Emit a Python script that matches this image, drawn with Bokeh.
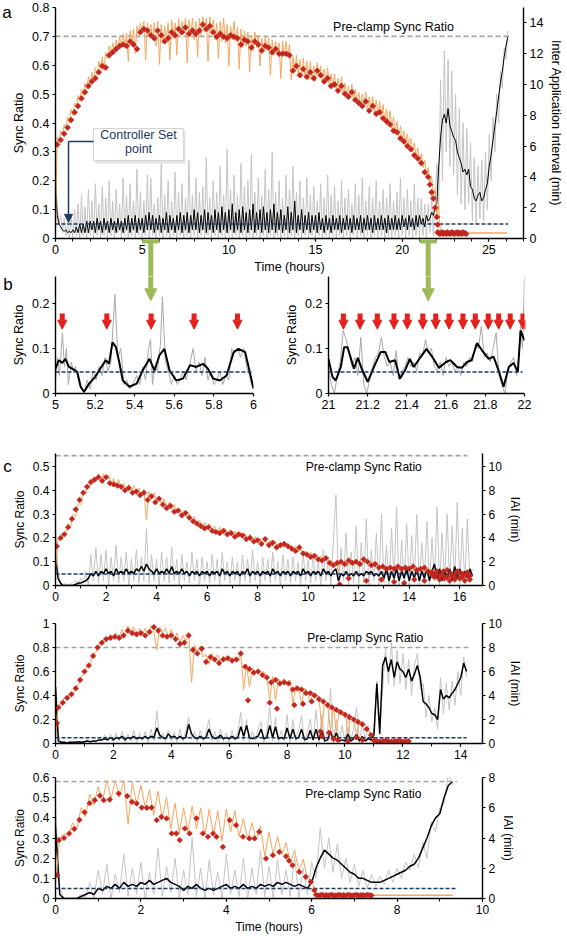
from bokeh.plotting import figure
from bokeh.models import Range1d, LinearAxis, FixedTicker, Arrow, NormalHead, ColumnDataSource
from bokeh.layouts import column, row
from bokeh.embed import file_html
from bokeh.resources import INLINE
from bokeh.core.properties import value

FONT = "Liberation Sans"
ORANGE = "#F5A65B"
RED = "#C4261D"
GREY = "#C4C4C4"
BGREY = "#A8A8A8"
NAVY = "#1F3864"
PRE = "#A3A3A3"
GREEN = "#9BBB59"
ARED = "#E3201B"

# ---------------- panel a ----------------
A_SETPOINT = 0.05
A_PRECLAMP = 0.7
a_red = [6.1,6.4,6.8,7.2,7.7,8.2,8.6,9.1,9.5,9.9, 10.2,10.4,10.8,11.2,11.1,11.9,12.1,12.3,12.5,12.6,
         12.5,12.8,12.6,12.3,13.4,13.6,13.5,13.2,13.0,13.5, 13.2,12.8,13.0,13.4,13.2,13.6,13.4,13.7,13.3,13.5,
         13.3,13.5,13.9,13.6,13.8,13.4,13.1,13.3,13.1,13.0, 13.2,13.1,13.0,12.6,12.9,12.8,12.4,12.8,12.6,12.2,
         12.5,12.4,12.1,12.3,12.0,12.0,12.0,11.9,10.9,11.2, 10.6,11.0,10.5,10.8,10.4,10.9,10.6,10.2,10.4,9.9,
         10.0,9.6,9.9,9.4,9.2,9.5,9.0,8.8,8.6,8.9, 8.3,8.6,8.1,8.2,7.8,7.6,7.4,7.0,6.9,6.5,
         6.3,6.0,5.8,5.4,5.2,4.9,4.3,4.0]
a_red_tail = [(21.6,3.5),(21.7,3.0),(21.8,2.6),(21.9,2.0),(22.0,1.4),(22.05,0.9)]
a_red_low = [0.4,0.35,0.3,0.35,0.4,0.3,0.35,0.35,0.3,0.4,0.35,0.3,0.35,0.4,0.35,0.3,0.35,0.35,0.4,0.3,
             0.35,0.35,0.3,0.4,0.35,0.35,0.3]
a_orange = [0.4,6.6,6.3,7.0,6.7,7.4,7.1,7.9,7.5,8.4, 8.0,8.8,8.5,9.3,8.9,9.7,9.3,10.1,9.7,10.5,
            10.0,10.8,10.3,11.1,10.6,11.5,11.0,11.8,10.9,12.1, 11.7,12.5,12.0,12.7,12.1,12.9,12.3,13.1,12.4,13.3,
            12.5,13.3,11.5,13.5,12.6,13.6,12.0,13.8,13.2,14.0, 13.4,14.1,11.6,14.0,13.2,13.9,12.9,14.0,12.5,14.1,
            11.3,13.9,12.7,13.8,12.9,14.0,11.6,14.2,13.0,14.0, 11.9,14.3,13.2,14.1,13.3,14.3,11.4,14.2,13.1,14.3,
            12.9,14.1,11.8,14.3,13.2,14.4,13.4,14.3,11.5,14.4, 13.3,14.2,12.9,14.0,11.7,14.1,12.8,14.3,12.7,13.9,
            11.2,13.8,12.9,14.1,12.8,13.7,11.0,13.6,12.4,13.5, 12.5,13.4,10.8,13.2,12.2,13.4,12.4,13.2,11.2,13.0,
            12.1,13.1,12.2,13.0,10.6,12.9,11.9,12.8,11.9,12.7, 10.4,12.8,11.9,12.8,11.8,12.6,10.3,11.8,10.8,11.9,
            10.6,11.6,10.5,11.7,10.4,11.5,10.3,11.5,10.3,11.2, 10.2,11.4,10.5,11.2,10.1,11.0,10.2,11.1,9.8,10.7,
            9.9,10.7,9.6,10.4,9.6,10.5,9.3,10.1,9.1,9.9, 9.2,10.0,8.9,9.7,8.8,9.5,8.5,9.4,8.6,9.5,
            8.3,9.2,8.4,9.2,8.1,9.0,8.0,8.9,7.8,8.7, 7.6,8.4,7.4,8.3,7.1,7.9,6.9,7.6,6.6,7.3,
            6.4,7.0,6.1,6.8,5.9,6.5,5.6,6.2,5.3,5.9, 5.0,5.5,4.6,5.1,4.1,4.6,3.6,4.0,2.8,3.2,
            1.5,2.2,0.5,0.35]
a_orange_tail = [(22.3,0.35),(26.05,0.35)]
a_grey = [0.2,0.12,0.05,0.08,0.02,0.07,0.01,0.06,0.0,0.08, 0.0,0.1,0.01,0.12,0.0,0.15,0.01,0.11,0.0,0.17,
          0.01,0.13,0.0,0.19,0.01,0.12,0.0,0.18,0.01,0.14, 0.0,0.2,0.01,0.13,0.0,0.17,0.02,0.12,0.0,0.21,
          0.01,0.15,0.0,0.19,0.01,0.13,0.0,0.24,0.01,0.16, 0.0,0.13,0.01,0.22,0.0,0.21,0.01,0.12,0.0,0.14,
          0.01,0.26,0.0,0.15,0.01,0.2,0.0,0.13,0.01,0.23, 0.0,0.16,0.01,0.19,0.0,0.14,0.01,0.27,0.0,0.15,
          0.01,0.21,0.0,0.16,0.01,0.18,0.0,0.28,0.01,0.14, 0.0,0.2,0.01,0.16,0.0,0.25,0.01,0.15,0.0,0.31,
          0.01,0.17,0.0,0.22,0.01,0.15,0.0,0.26,0.01,0.18, 0.0,0.2,0.01,0.29,0.0,0.16,0.01,0.21,0.0,0.15,
          0.01,0.24,0.0,0.17,0.01,0.3,0.0,0.16,0.01,0.2, 0.0,0.14,0.01,0.22,0.0,0.17,0.01,0.25,0.0,0.16,
          0.01,0.2,0.0,0.14,0.01,0.21,0.0,0.15,0.01,0.18, 0.0,0.13,0.01,0.19,0.0,0.14,0.01,0.22,0.0,0.15,
          0.01,0.18,0.0,0.13,0.01,0.2,0.0,0.14,0.01,0.17, 0.0,0.12,0.01,0.19,0.0,0.15,0.01,0.21,0.0,0.13,
          0.01,0.18,0.0,0.14,0.01,0.2,0.0,0.13,0.01,0.17, 0.0,0.14,0.01,0.19,0.0,0.13,0.01,0.16,0.0,0.21,
          0.01,0.14,0.0,0.17,0.01,0.13,0.0,0.19,0.01,0.14, 0.0,0.14,0.01,0.12,0.0,0.12,0.02,0.15,0.01,0.12]
a_black = [0.18,0.08,0.05,0.04,0.03,0.025,0.03,0.02,0.025,0.02, 0.03,0.02,0.04,0.02,0.05,0.02,0.05,0.02,0.06,0.02,
           0.06,0.03,0.06,0.02,0.07,0.03,0.06,0.02,0.07,0.03, 0.06,0.02,0.07,0.03,0.06,0.02,0.07,0.03,0.06,0.02,
           0.07,0.03,0.08,0.02,0.07,0.03,0.08,0.02,0.07,0.03, 0.07,0.02,0.08,0.03,0.09,0.03,0.08,0.02,0.07,0.03,
           0.08,0.02,0.07,0.03,0.09,0.02,0.08,0.03,0.07,0.02, 0.08,0.03,0.09,0.02,0.08,0.03,0.09,0.02,0.08,0.03,
           0.1,0.03,0.09,0.02,0.08,0.03,0.1,0.02,0.09,0.03, 0.08,0.02,0.1,0.03,0.09,0.02,0.11,0.03,0.09,0.02,
           0.1,0.03,0.12,0.02,0.09,0.03,0.1,0.02,0.11,0.03, 0.09,0.02,0.1,0.03,0.12,0.02,0.09,0.03,0.1,0.02,
           0.11,0.03,0.09,0.02,0.1,0.03,0.12,0.02,0.09,0.03, 0.1,0.02,0.08,0.03,0.11,0.02,0.09,0.03,0.13,0.02,
           0.08,0.03,0.1,0.02,0.08,0.03,0.09,0.02,0.08,0.03, 0.08,0.02,0.09,0.03,0.07,0.02,0.08,0.03,0.07,0.02,
           0.08,0.03,0.07,0.03,0.08,0.02,0.07,0.03,0.08,0.03, 0.07,0.02,0.08,0.03,0.07,0.03,0.08,0.02,0.07,0.03,
           0.08,0.03,0.07,0.02,0.08,0.03,0.07,0.03,0.08,0.03, 0.07,0.02,0.08,0.03,0.07,0.03,0.08,0.03,0.07,0.03,
           0.08,0.04,0.07,0.03,0.08,0.04,0.07,0.03,0.08,0.04, 0.08,0.05,0.07,0.04,0.08,0.06,0.07,0.09,0.08,0.11]
a_rec_black = [0.12,0.25,0.35,0.41,0.43,0.40,0.45,0.39,0.37,0.35, 0.34,0.30,0.28,0.26,0.23,0.24,0.22,0.24,0.18,0.17,
               0.14,0.13,0.15,0.16,0.13,0.14,0.17,0.19,0.25,0.29, 0.34,0.39,0.44,0.49,0.54,0.58,0.63,0.67,0.70]
a_rec_grey = [0.26,0.1,0.55,0.2,0.65,0.3,0.62,0.25,0.58,0.22, 0.5,0.15,0.45,0.12,0.4,0.1,0.38,0.12,0.33,0.06,
              0.28,0.05,0.25,0.07,0.27,0.06,0.3,0.1,0.36,0.2, 0.42,0.3,0.5,0.4,0.58,0.52,0.66,0.62,0.72]

# ---------------- panel b ----------------
B_SETPOINT = 0.048
b1_window = (5.0, 6.0)
b2_window = (21.0, 22.0)
b1_black = [(5.0,0.055),(5.017,0.074),(5.034,0.068),(5.05,0.077),(5.068,0.059),(5.085,0.055),(5.11,0.048),
            (5.127,0.015),(5.144,0.004),(5.17,0.022),(5.2,0.037),(5.22,0.051),(5.254,0.074),(5.27,0.066),
            (5.288,0.114),(5.305,0.103),(5.32,0.074),(5.34,0.029),(5.373,0.015),(5.41,0.022),(5.44,0.051),
            (5.475,0.077),(5.5,0.051),(5.525,0.085),(5.55,0.099),(5.576,0.051),(5.61,0.029),(5.644,0.033),
            (5.68,0.063),(5.71,0.059),(5.746,0.066),(5.77,0.055),(5.797,0.033),(5.83,0.029),(5.864,0.04),
            (5.9,0.092),(5.924,0.099),(5.958,0.092),(5.983,0.044),(6.0,0.011)]
b1_grey = [(5.0,0.03),(5.01,0.08),(5.02,0.04),(5.035,0.135),(5.045,0.06),(5.055,0.1),(5.065,0.02),(5.08,0.07),
           (5.09,0.05),(5.1,0.06),(5.115,0.03),(5.13,0.01),(5.145,0.0),(5.16,0.03),(5.175,0.01),(5.19,0.05),
           (5.205,0.03),(5.22,0.06),(5.235,0.04),(5.25,0.08),(5.265,0.05),(5.28,0.07),(5.3,0.22),(5.315,0.08),
           (5.33,0.1),(5.345,0.02),(5.36,0.03),(5.375,0.01),(5.39,0.02),(5.41,0.04),(5.425,0.02),(5.44,0.06),
           (5.455,0.03),(5.47,0.1),(5.48,0.12),(5.49,0.02),(5.5,0.06),(5.515,0.05),(5.53,0.11),(5.54,0.215),
           (5.555,0.07),(5.57,0.05),(5.585,0.02),(5.6,0.04),(5.615,0.02),(5.63,0.03),(5.645,0.05),(5.66,0.03),
           (5.68,0.07),(5.695,0.1),(5.71,0.05),(5.725,0.07),(5.74,0.04),(5.755,0.08),(5.77,0.03),(5.785,0.05),
           (5.8,0.02),(5.815,0.03),(5.83,0.05),(5.845,0.02),(5.86,0.04),(5.875,0.03),(5.89,0.1),(5.905,0.09),
           (5.92,0.1),(5.935,0.08),(5.95,0.1),(5.965,0.06),(5.98,0.04),(5.99,0.02),(6.0,0.01)]
b2_black = [(21.0,0.077),(21.02,0.037),(21.037,0.029),(21.063,0.059),(21.08,0.103),(21.097,0.103),(21.13,0.055),
            (21.15,0.079),(21.173,0.051),(21.2,0.026),(21.232,0.059),(21.266,0.092),(21.29,0.092),(21.31,0.07),
            (21.34,0.074),(21.364,0.033),(21.39,0.051),(21.415,0.077),(21.435,0.059),(21.47,0.081),(21.5,0.099),
            (21.53,0.081),(21.563,0.057),(21.6,0.07),(21.622,0.074),(21.656,0.059),(21.68,0.057),(21.707,0.07),
            (21.73,0.074),(21.758,0.112),(21.783,0.096),(21.817,0.077),(21.842,0.082),(21.868,0.051),(21.893,0.015),
            (21.92,0.059),(21.944,0.068),(21.966,0.048),(21.98,0.14),(22.0,0.118)]
b2_grey = [(21.0,0.05),(21.015,0.02),(21.03,0.0),(21.045,0.04),(21.06,0.07),(21.075,0.14),(21.09,0.12),(21.105,0.09),
           (21.12,0.06),(21.135,0.08),(21.15,0.04),(21.165,0.125),(21.18,0.02),(21.195,0.0),(21.21,0.03),(21.225,0.06),
           (21.24,0.08),(21.255,0.09),(21.27,0.125),(21.285,0.08),(21.3,0.06),(21.315,0.07),(21.33,0.04),(21.345,0.095),
           (21.36,0.03),(21.375,0.05),(21.39,0.06),(21.405,0.08),(21.42,0.06),(21.435,0.07),(21.45,0.05),(21.465,0.09),
           (21.48,0.085),(21.495,0.12),(21.51,0.09),(21.525,0.1),(21.54,0.06),(21.555,0.05),(21.57,0.07),(21.585,0.04),
           (21.6,0.08),(21.615,0.06),(21.63,0.07),(21.645,0.05),(21.66,0.06),(21.675,0.04),(21.69,0.07),(21.705,0.06),
           (21.72,0.08),(21.735,0.07),(21.75,0.11),(21.765,0.1),(21.78,0.15),(21.795,0.08),(21.81,0.09),(21.825,0.07),
           (21.84,0.1),(21.855,0.135),(21.87,0.04),(21.885,0.02),(21.9,0.0),(21.915,0.05),(21.93,0.07),(21.945,0.08),
           (21.96,0.04),(21.97,0.08),(21.98,0.15),(21.99,0.1),(22.0,0.26)]
b1_applications = [5.034, 5.259, 5.483, 5.70, 5.919]
b2_applications = [21.076, 21.161, 21.249, 21.334, 21.402, 21.481, 21.547, 21.615, 21.686, 21.749,
                   21.815, 21.868, 21.927, 21.992]

# ---------------- panel c1 ----------------
C1_PRECLAMP = 0.546
c1_red = [3.3,4.0,4.3,4.9,5.6,6.4,7.2,7.8,8.3,8.7, 8.9,9.1,8.8,9.1,8.6,8.5,8.4,8.3,8.0,8.2,
          7.8,7.9,7.6,7.8,7.2,7.5,7.0,7.3,6.8,6.5, 6.7,6.2,6.3,5.9,6.1,5.7,5.4,5.2,5.0,4.8,
          4.9,4.6,4.5,4.4,4.6,4.3,4.4,4.1,4.3,4.2, 3.9,4.0,3.7,3.8,3.5,3.9,3.4,3.6,3.2,3.4,
          3.5,3.3,3.1,2.9,3.2,2.7,2.6,2.4,2.5,2.2, 2.1,2.3,1.9,1.7,1.9,2.0,1.8,2.1,1.9,2.0,
          1.8,2.2,2.0,1.7,1.8,1.5,1.6,1.4,1.5,1.4, 1.6,1.4,1.5,1.4,1.6,1.3,1.4,1.5,1.2,1.1,
          1.0,0.8,1.2,0.7,1.0,0.8,1.1,0.7,0.9,0.8]
c1_red_extra = [(11.25,0.1),(11.6,0.6),(12.3,0.4),(12.9,0.5),(13.4,0.3),(13.8,0.2),(14.2,0.5),(14.6,0.4),
                (15.0,0.7),(15.2,0.5),(15.4,0.6),(15.6,0.4),(15.8,0.5),(16.0,0.6),(16.2,0.4),(16.4,0.5),
                (15.1,1.2),(15.5,1.3),(15.9,1.2),(16.3,1.1),(14.9,0.9),(15.3,0.9),(15.7,0.8),(16.1,1.0)]
c1_orange = [1.2,3.9,3.8,4.4,4.3,5.2,5.0,6.0,5.8,6.9, 6.8,8.0,7.8,8.6,8.4,9.1,8.8,9.4,8.7,9.4,
             8.9,9.3,8.6,9.0,8.4,8.9,8.2,8.6,8.0,8.5, 7.9,8.4,7.8,8.2,7.6,8.1,5.5,7.9,7.3,7.8,
             7.1,7.5,6.8,7.3,6.5,7.0,6.4,6.8,6.1,6.5, 5.9,6.3,5.7,6.0,5.3,5.8,5.1,5.5,4.9,5.3,
             4.8,5.2,4.6,5.0,4.4,4.9,4.4,4.8,4.2,4.7, 4.2,4.6,4.0,4.5,4.0,4.4,3.8,4.3,3.7,4.1,
             3.6,4.0,3.5,3.9,3.3,3.8,3.3,3.7,3.2,3.6, 3.2,3.6,3.1,3.4,2.9,3.3,2.8,3.1,2.6,2.9,
             2.5,2.8,2.3,2.6,2.1,2.5,2.0,2.3,1.8,2.1, 1.6,2.0,1.2,2.1,1.7,2.0,1.7,2.1,1.8,2.1,
             1.8,2.3,1.9,2.1,1.7,1.9,1.6,1.8,1.4,1.7, 1.3,1.6,1.3,1.6,1.3,1.6,1.3,1.6,1.3,1.6,
             1.3,1.6,1.2,1.5,1.2,1.5,1.1,1.4,1.0,1.3, 0.9]
c1_grey = [0.25,0.06,0.01,0.0,0.01,0.0,0.01,0.0,0.02,0.0, 0.03,0.01,0.06,0.0,0.13,0.02,0.16,0.01,0.13,0.02,
           0.15,0.0,0.12,0.02,0.17,0.01,0.12,0.02,0.14,0.0, 0.11,0.02,0.15,0.01,0.12,0.02,0.24,0.01,0.13,0.02,
           0.11,0.0,0.14,0.02,0.12,0.01,0.16,0.02,0.11,0.0, 0.13,0.02,0.1,0.01,0.14,0.02,0.11,0.0,0.12,0.02,
           0.1,0.01,0.13,0.02,0.11,0.0,0.14,0.02,0.1,0.01, 0.12,0.02,0.1,0.0,0.13,0.02,0.11,0.01,0.15,0.02,
           0.1,0.0,0.12,0.02,0.11,0.01,0.14,0.02,0.1,0.0, 0.13,0.02,0.11,0.01,0.12,0.02,0.1,0.0,0.14,0.02,
           0.11,0.01,0.13,0.02,0.1,0.0,0.15,0.02,0.12,0.0, 0.2,0.38,0.0,0.16,0.02,0.22,0.0,0.14,0.01,0.25,
           0.0,0.18,0.01,0.28,0.0,0.15,0.02,0.22,0.0,0.3, 0.01,0.17,0.0,0.24,0.02,0.33,0.0,0.19,0.01,0.26,
           0.0,0.21,0.02,0.3,0.0,0.18,0.01,0.27,0.0,0.2, 0.02,0.33,0.0,0.22,0.01,0.3,0.0,0.25,0.02,0.35,
           0.0,0.24,0.01,0.28,0.02,0.07]
c1_black = [0.12,0.03,0.01,0.0,0.0,0.0,0.0,0.0,0.005,0.01, 0.01,0.015,0.02,0.03,0.05,0.04,0.06,0.04,0.06,0.05,
            0.07,0.05,0.06,0.04,0.07,0.05,0.06,0.05,0.07,0.05, 0.06,0.05,0.07,0.06,0.08,0.06,0.09,0.07,0.06,0.05,
            0.07,0.05,0.06,0.05,0.07,0.05,0.08,0.05,0.06,0.05, 0.07,0.05,0.06,0.04,0.06,0.05,0.06,0.04,0.06,0.05,
            0.06,0.04,0.06,0.05,0.06,0.04,0.07,0.05,0.06,0.04, 0.06,0.05,0.06,0.04,0.06,0.05,0.07,0.04,0.06,0.05,
            0.06,0.04,0.06,0.05,0.06,0.04,0.07,0.05,0.06,0.04, 0.06,0.05,0.06,0.04,0.06,0.05,0.06,0.04,0.07,0.05,
            0.06,0.04,0.06,0.05,0.06,0.04,0.07,0.05,0.06,0.04, 0.06,0.07,0.02,0.05,0.04,0.06,0.04,0.05,0.04,0.06,
            0.04,0.05,0.04,0.06,0.05,0.06,0.04,0.05,0.04,0.06, 0.03,0.07,0.02,0.06,0.03,0.07,0.02,0.06,0.03,0.07,
            0.02,0.06,0.03,0.07,0.02,0.06,0.03,0.07,0.02,0.06, 0.09,0.03,0.07,0.02,0.06,0.03,0.07,0.02,0.08,0.03,
            0.07,0.03,0.06,0.03,0.07,0.04]

# ---------------- panel c2 ----------------
C2_PRECLAMP = 0.8
c2_red = [3.0,3.4,3.8,4.1,4.6,5.3,6.0,6.5,7.3,8.0, 8.4,8.7,8.8,8.9,8.8,9.0,9.4,9.2,9.1,9.2,
          9.0,9.3,9.7,9.4,9.0,8.9,9.0,8.7,8.3,8.4, 9.0,7.8,7.5,7.9,6.8,7.2,7.0,6.7,7.0,7.1,
          6.9,7.0,7.5,6.4,6.2,5.9,6.0,5.7,5.5,5.1, 5.3,5.0,5.1,5.0,4.5,4.6,4.5,4.2,4.2,4.0,
          3.7,3.5,3.2,3.0,2.8,2.6,2.4,2.2,2.0,1.8, 1.6,1.2,0.7]
c2_red_extra = [(0.05,1.7),(6.65,3.6),(7.4,3.4),(7.65,2.9),(8.25,3.2),(8.55,3.3),(8.85,3.5),(9.15,1.0),
                (9.2,0.6),(9.45,0.9),(9.6,0.4),(9.75,0.3),(10.1,0.2),(10.4,0.5),(10.6,0.3)]
c2_red_low = [0.25,0.2,0.15,0.2,0.25,0.2,0.15,0.2,0.2,0.25,0.15,0.2,0.2]
c2_orange = [0.3,3.2,3.3,3.8,3.7,4.2,4.1,4.8,4.9,5.6, 5.8,6.5,6.6,7.4,7.6,8.2,8.3,8.8,8.6,9.1,
             8.8,9.2,8.9,9.5,9.0,9.8,9.2,9.7,9.0,9.6, 9.1,9.6,9.1,9.8,9.3,7.8,9.7,9.2,9.6,8.9,
             9.5,8.7,9.2,8.4,9.0,8.5,9.3,5.1,8.2,7.6, 8.1,7.2,7.4,6.6,7.5,7.0,7.4,6.8,7.3,7.0,
             7.3,6.9,7.2,6.8,7.6,4.5,6.6,4.7,6.3,5.9, 6.2,5.8,6.0,5.6,3.7,5.6,3.6,5.4,5.1,5.4,
             5.0,5.3,3.3,4.8,4.5,3.3,4.6,4.3,3.4,4.2, 4.0,3.9,1.2,3.6,3.3,1.0,3.1,0.9,2.8,2.6,
             2.6,0.8,2.3,2.1,0.7,1.9,1.7,1.5,1.2,0.6, 0.2,0.15]
c2_orange_tail = [(11.1,0.15),(12.2,0.15)]
c2_grey = [0.48,0.05,0.01,0.02,0.0,0.02,0.0,0.02,0.01,0.02, 0.01,0.03,0.01,0.02,0.01,0.04,0.02,0.07,0.02,0.08,
           0.01,0.09,0.02,0.1,0.01,0.08,0.02,0.11,0.01,0.09, 0.02,0.1,0.01,0.12,0.02,0.27,0.03,0.09,0.01,0.11,
           0.02,0.09,0.01,0.12,0.02,0.1,0.22,0.03,0.1,0.01, 0.11,0.02,0.09,0.2,0.02,0.1,0.01,0.12,0.02,0.09,
           0.01,0.11,0.02,0.1,0.26,0.02,0.2,0.01,0.1,0.02, 0.12,0.18,0.01,0.1,0.3,0.02,0.22,0.01,0.11,0.02,
           0.24,0.01,0.2,0.02,0.12,0.23,0.01,0.1,0.2,0.02, 0.28,0.01,0.24,0.02,0.1,0.46,0.01,0.2,0.02,0.15,
           0.01,0.25,0.02,0.12,0.3,0.01,0.18,0.02,0.15,0.01, 0.12,0.52,0.12,0.45,0.8,0.5,0.85,0.48,0.78,0.5,
           0.75,0.45,0.7,0.4,0.65,0.75,0.45,0.5,0.22,0.4, 0.18,0.3,0.12,0.55,0.25,0.5,0.28,0.52,0.32,0.6,
           0.4,0.72,0.55]
c2_black = [0.47,0.02,0.01,0.01,0.005,0.01,0.01,0.01,0.015,0.01, 0.015,0.02,0.015,0.02,0.02,0.03,0.03,0.04,0.03,0.05,
            0.03,0.05,0.04,0.06,0.03,0.05,0.04,0.06,0.04,0.05, 0.04,0.06,0.04,0.06,0.05,0.13,0.07,0.05,0.04,0.08,
            0.05,0.06,0.04,0.06,0.04,0.05,0.16,0.08,0.05,0.04, 0.06,0.04,0.05,0.12,0.06,0.04,0.05,0.07,0.04,0.05,
            0.04,0.06,0.04,0.05,0.14,0.06,0.15,0.05,0.04,0.05, 0.06,0.12,0.04,0.05,0.15,0.05,0.14,0.04,0.05,0.04,
            0.13,0.04,0.12,0.04,0.05,0.12,0.03,0.04,0.11,0.03, 0.12,0.03,0.11,0.02,0.03,0.1,0.02,0.09,0.02,0.03,
            0.02,0.08,0.02,0.04,0.08,0.02,0.06,0.02,0.04,0.03, 0.07,0.5,0.08,0.65,0.72,0.6,0.7,0.55,0.68,0.62,
            0.6,0.55,0.62,0.52,0.58,0.65,0.55,0.35,0.33,0.3, 0.25,0.24,0.2,0.45,0.37,0.4,0.38,0.42,0.45,0.5,
            0.55,0.67,0.6]

# ---------------- panel c3 ----------------
C3_PRECLAMP = 0.58
c3_red = [(0.04,1.55),(0.08,3.86),(0.2,4.0),(0.32,4.3),(0.44,4.6),(0.56,5.2),(0.68,5.7),(0.8,6.3),(0.92,6.5),
          (1.04,6.8),(1.13,6.5),(1.27,6.54),(1.48,6.94),(1.68,6.77),(1.79,6.39),(1.9,6.28),(2.02,6.01),
          (2.14,5.99),(2.25,6.01),(2.37,5.18),(2.48,5.4),(2.6,5.29),(2.72,4.3),(2.83,4.3),(2.91,3.86),
          (3.03,4.63),(3.14,4.3),(3.3,5.3),(3.45,4.3),(3.57,4.08),(3.69,4.3),(3.77,4.08),(3.92,3.41),
          (4.08,5.18),(4.23,4.85),(4.39,4.08),(4.54,3.97),(4.66,3.97),(4.77,4.41),(4.93,2.64),(5.09,2.86),
          (5.24,3.08),(5.4,2.79),(5.47,2.5),(5.55,2.2),(5.71,1.76),(5.86,1.43),(5.98,1.1),(6.06,0.55)]
c3_red_low = [0.25,0.2,0.22,0.25,0.2,0.22,0.2,0.25,0.22,0.2,0.22,0.25,0.2,0.22,0.2,0.25,0.22,0.2,0.22,0.25,
              0.2,0.22,0.22,0.2,0.25,0.22,0.2]
c3_orange = [1.0,4.0,4.3,4.1,5.0,4.6,6.0,5.4,6.9,6.2, 7.4,6.4,7.8,6.6,7.8,6.7,7.8,4.9,7.7,6.2,
             7.5,6.0,7.2,5.5,7.1,5.3,6.7,4.6,6.3,4.3, 6.0,4.4,6.1,4.6,6.0,4.2,5.9,4.2,5.8,3.8,
             5.9,4.4,5.8,4.1,5.3,3.9,5.0,3.9,4.8,2.8, 4.4,2.9,4.1,2.9,3.7,2.3,3.2,1.8,2.6,1.3,
             1.2,0.22]
c3_orange_tail = [(6.1,0.22),(9.3,0.22)]
c3_grey = [0.45,0.05,0.0,0.0,0.0,0.0,0.02,0.0,0.08,0.0, 0.14,0.02,0.17,0.0,0.12,0.03,0.22,0.01,0.15,0.02,
           0.18,0.0,0.13,0.02,0.25,0.01,0.16,0.03,0.2,0.0, 0.14,0.02,0.3,0.01,0.15,0.0,0.19,0.02,0.13,0.0,
           0.22,0.02,0.14,0.01,0.2,0.0,0.15,0.02,0.24,0.01, 0.16,0.0,0.19,0.02,0.14,0.01,0.21,0.0,0.15,0.02,
           0.18,0.1,0.35,0.15,0.3,0.13,0.27,0.1,0.2,0.08, 0.17,0.06,0.14,0.05,0.12,0.06,0.11,0.07,0.14,0.08,
           0.15,0.1,0.18,0.14,0.22,0.15,0.28,0.2,0.38,0.33, 0.45,0.47,0.62,0.56]
c3_black = [0.35,0.02,0.0,0.0,0.0,0.0,0.01,0.02,0.03,0.02, 0.05,0.04,0.06,0.05,0.07,0.05,0.08,0.06,0.07,0.06,
            0.08,0.07,0.09,0.07,0.08,0.09,0.1,0.08,0.07,0.06, 0.04,0.06,0.05,0.07,0.05,0.04,0.05,0.04,0.05,0.06,
            0.07,0.05,0.06,0.05,0.07,0.05,0.06,0.05,0.07,0.06, 0.07,0.06,0.08,0.07,0.08,0.07,0.06,0.07,0.06,0.05,
            0.08,0.15,0.2,0.24,0.22,0.2,0.19,0.17,0.15,0.13, 0.12,0.1,0.1,0.09,0.08,0.08,0.08,0.09,0.1,0.11,
            0.12,0.13,0.14,0.16,0.17,0.2,0.25,0.3,0.36,0.4, 0.42,0.5,0.56,0.58]


def times(t0, dt, vals):
    return [round(t0 + dt * i, 4) for i in range(len(vals))]


def unzip(pairs):
    return [q[0] for q in pairs], [q[1] for q in pairs]


def mkfig(w, h, xr, yr, bl, br, bt, bb):
    p = figure(width=w, height=h, x_range=Range1d(*xr), y_range=Range1d(*yr),
               output_backend="svg", toolbar_location=None,
               min_border_left=bl, min_border_right=br, min_border_top=bt, min_border_bottom=bb)
    p.xgrid.visible = False
    p.ygrid.visible = False
    p.outline_line_color = None
    return p


def style_axis(ax, ticks, fs, label=None, minor=None, overrides=None):
    ax.ticker = FixedTicker(ticks=ticks, minor_ticks=minor if minor else [])
    ax.axis_label = label
    ax.axis_line_color = "black"
    ax.axis_line_width = 1.4
    ax.major_tick_line_color = "black"
    ax.major_tick_line_width = 1.2
    ax.major_tick_in = 0
    ax.major_tick_out = 3
    ax.minor_tick_line_color = "black"
    ax.minor_tick_line_width = 1
    ax.minor_tick_in = 0
    ax.minor_tick_out = 3
    ax.major_label_text_font = FONT
    ax.major_label_text_font_size = fs
    ax.major_label_text_color = "black"
    ax.major_label_standoff = 3
    ax.axis_label_text_font = FONT
    ax.axis_label_text_font_size = fs
    ax.axis_label_text_font_style = "normal"
    ax.axis_label_text_color = "black"
    ax.axis_label_standoff = 3
    if overrides:
        ax.major_label_overrides = overrides


def right_axis(p, name, rng, ticks, fs, label):
    p.extra_y_ranges = {name: Range1d(*rng)}
    ax = LinearAxis(y_range_name=name)
    style_axis(ax, ticks, fs, label)
    p.add_layout(ax, "right")


def hline(p, x0, x1, y, color, dash, width=1.5):
    p.line([x0, x1], [y, y], line_color=color, line_dash=dash, line_width=width)


def text(p, x, y, s, fs, color="black", align="center", level="overlay"):
    p.text(x=[x], y=[y], text=[s], text_font=value(FONT), text_font_size=fs, text_color=color,
           text_align=align, text_baseline="middle", level=level)


def red_points(p, t, v, rng="iai", size=4.2):
    p.scatter(t, v, marker="square", angle=0.785, size=size, fill_color=RED, line_color=RED,
              line_width=0.5, y_range_name=rng)


# ======== figure a ========
pa = mkfig(567, 276, (0, 27), (0, 0.8), 55, 44, 7, 38)
style_axis(pa.xaxis[0], [0, 5, 10, 15, 20, 25], "12.5px", "Time (hours)", minor=list(range(0, 28)))
style_axis(pa.yaxis[0], [0, 0.1, 0.2, 0.3, 0.4, 0.5, 0.6, 0.7, 0.8], "12.5px", "Sync Ratio", overrides={0: "0"})
right_axis(pa, "iai", (0, 15), [0, 2, 4, 6, 8, 10, 12, 14], "12.5px", "Inter Application Interval (min)")

a_gt = times(0, 0.1, a_grey) + times(22.0, 0.108, a_rec_grey)
pa.line(a_gt, a_grey + a_rec_grey, line_color=GREY, line_width=1)
a_bt = times(0, 0.1, a_black) + times(22.0, 0.108, a_rec_black)
pa.line(a_bt, a_black + a_rec_black, line_color="black", line_width=1)
hline(pa, 0, 26.1, A_SETPOINT, NAVY, "4 2", 1.6)
hline(pa, 0, 26.2, A_PRECLAMP, PRE, "5 3", 1.6)
pa.line(times(0, 0.1, a_orange), a_orange, line_color=ORANGE, line_width=1, y_range_name="iai")
ot, ov = unzip(a_orange_tail)
pa.line(ot, ov, line_color=ORANGE, line_width=1.5, y_range_name="iai")
red_points(pa, times(0.1, 0.2, a_red), a_red)
rt, rv = unzip(a_red_tail)
red_points(pa, rt, rv)
red_points(pa, times(22.05, 0.063, a_red_low), a_red_low)
text(pa, 19.5, 0.731, "Pre-clamp Sync Ratio", "12.5px", level="glyph")

# controller set point callout
pa.quad(left=[2.3], right=[7.5], top=[0.373], bottom=[0.259], fill_color="#E4E4E4", line_color=None)
pa.quad(left=[2.19], right=[7.39], top=[0.381], bottom=[0.27], fill_color="white", line_color="#D4D4D4")
text(pa, 4.79, 0.36, "Controller Set", "12.5px", NAVY, level="glyph")
text(pa, 4.79, 0.31, "point", "12.5px", NAVY, level="glyph")
pa.line([2.19, 0.75], [0.336, 0.336], line_color=NAVY, line_width=1.5)
pa.add_layout(Arrow(x_start=0.75, y_start=0.336, x_end=0.75, y_end=0.056, line_color=NAVY, line_width=1.5,
                    end=NormalHead(size=8, fill_color=NAVY, line_color=NAVY)))

# green connectors under the time axis
for w in (b1_window, b2_window):
    mid = (w[0] + w[1]) / 2
    pa.segment(x0=[w[0]], y0=[-0.01], x1=[w[1]], y1=[-0.01], line_color=GREEN, line_width=4, level="overlay")
    pa.segment(x0=[mid], y0=[-0.01], x1=[mid], y1=[-0.3], line_color=GREEN, line_width=5, level="overlay")
text(pa, -2.8, 0.783, "a", "17px", level="overlay")


# ======== figure b ========
def make_b(window, w, bl, br, black, grey, apps, arrow_x, letter):
    p = mkfig(w, 164, window, (0, 0.26), bl, br, 0, 47)
    ticks = [round(window[0] + 0.2 * i, 1) for i in range(6)]
    style_axis(p.xaxis[0], ticks, "12.5px", None,
               overrides={window[0]: str(int(window[0])), window[1]: str(int(window[1]))})
    style_axis(p.yaxis[0], [0, 0.1, 0.2], "12.5px", "Sync Ratio", overrides={0: "0"})
    gt, gv = unzip(grey)
    p.line(gt, gv, line_color=BGREY, line_width=1)
    bt, bv = unzip(black)
    p.line(bt, bv, line_color="black", line_width=2)
    hline(p, window[0], window[1] - 0.01, B_SETPOINT, NAVY, "4 2", 1.5)
    src = ColumnDataSource(dict(x=apps, y0=[0.178] * len(apps), y1=[0.143] * len(apps)))
    p.add_layout(Arrow(source=src, x_start="x", y_start="y0", x_end="x", y_end="y1", line_color=ARED,
                       line_width=5, end=NormalHead(size=9, fill_color=ARED, line_color=ARED)))
    p.add_layout(Arrow(x_start=arrow_x, y_start=0.27, x_end=arrow_x, y_end=0.206, line_color=GREEN,
                       line_width=5, end=NormalHead(size=12, fill_color=GREEN, line_color=GREEN)))
    if letter:
        text(p, window[0] + (7.5 - bl) / 198.0, 0.242, letter, "17px", level="overlay")
    return p


pb1 = make_b(b1_window, 280, 55, 27, b1_black, b1_grey, b1_applications, 5.481, "b")
pb2 = make_b(b2_window, 287, 48, 43, b2_black, b2_grey, b2_applications, 21.509, None)


# ======== figures c ========
def make_c(h, xmax, ymax, bt, bb, yticks, rmax, rticks, xticks, xlabel, yover):
    p = mkfig(526, h, (0, xmax), (0, ymax), 55, 44, bt, bb)
    style_axis(p.xaxis[0], xticks, "12px", xlabel, minor=list(range(0, int(xmax) + 1)))
    style_axis(p.yaxis[0], yticks, "12px", "Sync Ratio", overrides=yover)
    right_axis(p, "iai", (0, rmax), rticks, "12px", "IAI (min)")
    return p


pc1 = make_c(167, 16.9, 0.555, 13, 22, [0, 0.1, 0.2, 0.3, 0.4, 0.5], 11.1, [0, 2, 4, 6, 8, 10],
             list(range(0, 17, 2)), None, {0: "0"})
pc1.line(times(0, 0.1, c1_grey), c1_grey, line_color=GREY, line_width=1)
pc1.line(times(0, 0.1, c1_black), c1_black, line_color="black", line_width=1.5)
hline(pc1, 0, 16.5, 0.048, NAVY, "4 2", 1.5)
hline(pc1, 0, 16.3, C1_PRECLAMP, PRE, "5 3", 1.6)
pc1.line(times(0, 0.1, c1_orange), c1_orange, line_color=ORANGE, line_width=1, y_range_name="iai")
red_points(pc1, times(0.05, 0.15, c1_red), c1_red, size=4.0)
ex, ev = unzip(c1_red_extra)
red_points(pc1, ex, ev, size=4.0)
text(pc1, 12.2, 0.5, "Pre-clamp Sync Ratio", "12px", level="glyph")
text(pc1, -1.9, 0.5, "c", "17px", level="overlay")

pc2 = make_c(158, 14.75, 1.0, 16, 22, [0, 0.2, 0.4, 0.6, 0.8, 1.0], 10, [0, 2, 4, 6, 8, 10],
             list(range(0, 15, 2)), None, {0: "0"})
pc2.line(times(0, 0.1, c2_grey), c2_grey, line_color=GREY, line_width=1)
pc2.line(times(0, 0.1, c2_black), c2_black, line_color="black", line_width=1.5)
hline(pc2, 0, 14.2, 0.048, NAVY, "4 2", 1.5)
hline(pc2, 0, 14.3, C2_PRECLAMP, PRE, "5 3", 1.6)
pc2.line(times(0, 0.1, c2_orange), c2_orange, line_color=ORANGE, line_width=1, y_range_name="iai")
ot, ov = unzip(c2_orange_tail)
pc2.line(ot, ov, line_color=ORANGE, line_width=1.5, y_range_name="iai")
red_points(pc2, times(0.1, 0.15, c2_red), c2_red, size=4.0)
ex, ev = unzip(c2_red_extra)
red_points(pc2, ex, ev, size=4.0)
red_points(pc2, times(11.0, 0.1, c2_red_low), c2_red_low, size=4.0)
text(pc2, 10.7, 0.88, "Pre-clamp Sync Ratio", "12px", level="glyph")

pc3 = make_c(171, 10, 0.6, 12, 38, [0, 0.1, 0.2, 0.3, 0.4, 0.5, 0.6], 8, [0, 2, 4, 6, 8],
             list(range(0, 11, 2)), "Time (hours)", {0: "0"})
pc3.line(times(0, 0.1, c3_grey), c3_grey, line_color=GREY, line_width=1)
pc3.line(times(0, 0.1, c3_black), c3_black, line_color="black", line_width=1.5)
hline(pc3, 0, 9.4, 0.05, NAVY, "4 2", 1.5)
hline(pc3, 0, 9.4, C3_PRECLAMP, PRE, "5 3", 1.6)
pc3.line(times(0, 0.1, c3_orange), c3_orange, line_color=ORANGE, line_width=1, y_range_name="iai")
ot, ov = unzip(c3_orange_tail)
pc3.line(ot, ov, line_color=ORANGE, line_width=1.5, y_range_name="iai")
rt, rv = unzip(c3_red)
red_points(pc3, rt, rv, size=4.0)
red_points(pc3, times(6.1, 0.05, c3_red_low), c3_red_low, size=4.0)
text(pc3, 7.21, 0.52, "Pre-clamp Sync Ratio", "12px", level="glyph")

layout = column(pa, row(pb1, pb2), pc1, pc2, pc3)
open("out.html", "w").write(file_html(layout, INLINE))
